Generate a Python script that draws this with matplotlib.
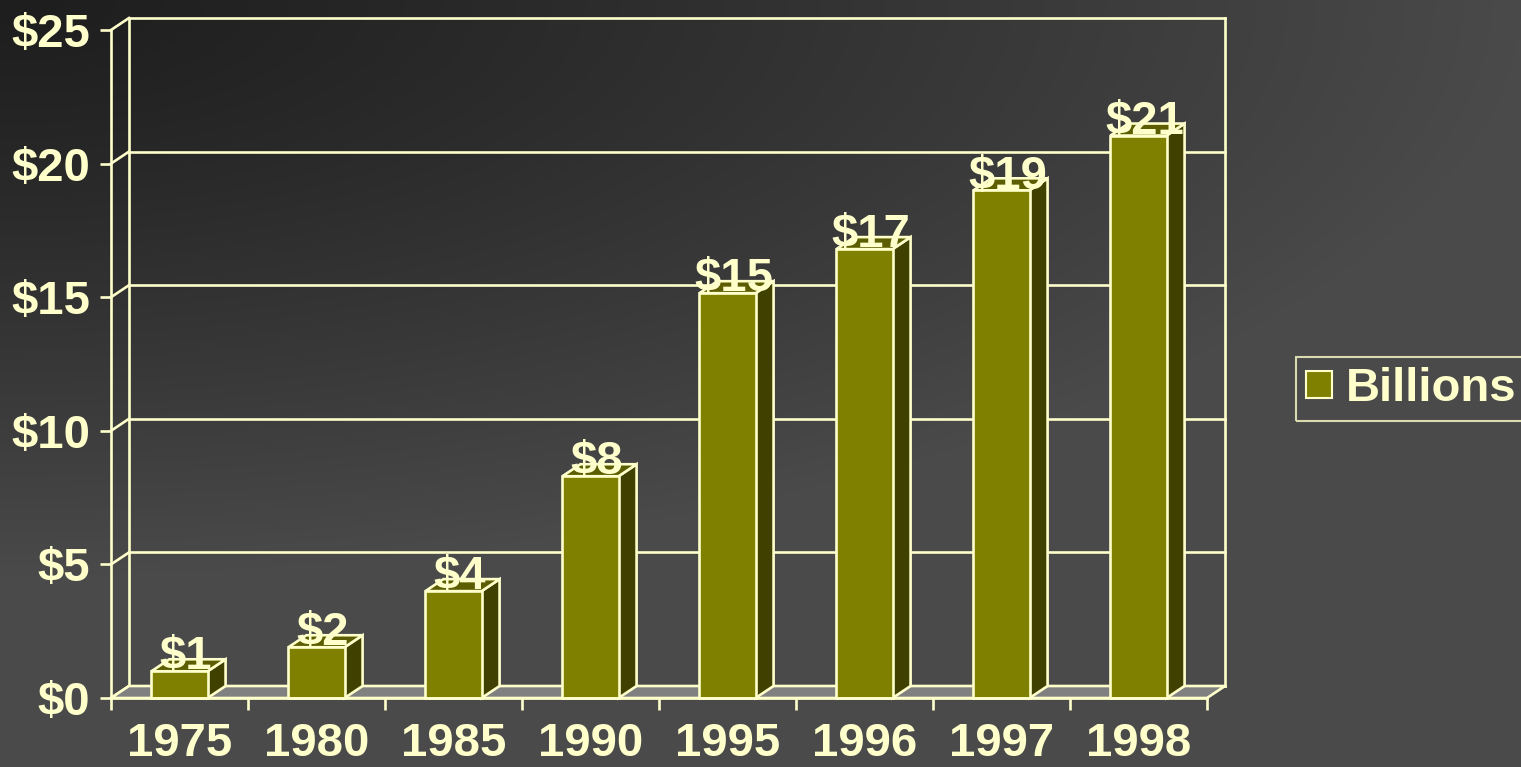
import numpy as np
import matplotlib
matplotlib.use('Agg')
import matplotlib.pyplot as plt
from matplotlib.patches import Polygon, Patch

# ---------------- data ----------------
years = ['1975', '1980', '1985', '1990', '1995', '1996', '1997', '1998']
values = [1.0, 1.9, 4.0, 8.3, 15.15, 16.8, 19.0, 21.05]
value_labels = ['$1', '$2', '$4', '$8', '$15', '$17', '$19', '$21']
yticks = [0, 5, 10, 15, 20, 25]
ytick_labels = ['$0', '$5', '$10', '$15', '$20', '$25']
series_name = 'Billions'

# ---------------- style ----------------
W, H, DPI = 1521, 767, 100
EC = '#FFFFCC'
FRONT = '#808000'
SIDE = '#404000'
TOP = '#5c5c00'
FLOOR = '#808080'
LW = 1.9
FS = 34
DEPTH_PX = (18, 12)

plt.rcParams['font.family'] = ['Liberation Sans', 'DejaVu Sans']
plt.rcParams['font.weight'] = 'bold'

fig = plt.figure(figsize=(W / DPI, H / DPI), dpi=DPI)

# background gradient
bg = fig.add_axes([0, 0, 1, 1], zorder=-10)
yy, xx = np.mgrid[0:H, 0:W]
d = np.sqrt((xx / W) ** 2 + (yy / (0.75 * H)) ** 2)
d = np.clip(d, 0, 1) ** 1.2
v = (0x1e + 0x2c * d) / 255.0
bg.imshow(np.dstack([v, v, v]), aspect='auto', interpolation='bilinear')
bg.axis('off')

# main axes (front plane)
ax = fig.add_axes([111 / W, (H - 698) / H, (1207 - 111) / W, (698 - 30) / H])
ax.set_xlim(-0.5, len(years) - 0.5)
ax.set_ylim(0, 25)
ax.patch.set_visible(False)

# depth expressed in data units through the axes transform
inv = ax.transData.inverted()
o = ax.transData.transform((0, 0))
dd = inv.transform(o + np.array(DEPTH_PX))
ddx, ddy = dd[0], dd[1]

x0, x1 = -0.5, len(years) - 0.5
ymax = yticks[-1]

# back wall grid and side diagonals
for t in yticks:
    ax.plot([x0 + ddx, x1 + ddx], [t + ddy, t + ddy], color=EC, lw=LW, clip_on=False, zorder=1)
    ax.plot([x0, x0 + ddx], [t, t + ddy], color=EC, lw=LW, clip_on=False, zorder=1)
ax.plot([x0 + ddx, x0 + ddx], [ddy, ymax + ddy], color=EC, lw=LW, clip_on=False, zorder=1)
ax.plot([x1 + ddx, x1 + ddx], [ddy, ymax + ddy], color=EC, lw=LW, clip_on=False, zorder=1)

# floor
ax.add_patch(Polygon([(x0, 0), (x1, 0), (x1 + ddx, ddy), (x0 + ddx, ddy)], closed=True,
                     facecolor=FLOOR, edgecolor=EC, lw=LW, clip_on=False, zorder=2,
                     joinstyle='miter'))

# bars
bw = 0.41
xs = np.arange(len(years))
ax.bar(xs, values, width=bw, color=FRONT, edgecolor=EC, lw=LW, zorder=4, clip_on=False)
for xi, val in zip(xs, values):
    r = xi + bw / 2
    l = xi - bw / 2
    ax.add_patch(Polygon([(r, 0), (r + ddx, ddy), (r + ddx, val + ddy), (r, val)], closed=True,
                         facecolor=SIDE, edgecolor=EC, lw=LW, clip_on=False, zorder=3))
    ax.add_patch(Polygon([(l, val), (r, val), (r + ddx, val + ddy), (l + ddx, val + ddy)], closed=True,
                         facecolor=TOP, edgecolor=EC, lw=LW, clip_on=False, zorder=3))

for xi, val, lab in zip(xs, values, value_labels):
    ax.text(xi + ddx * 0.35, val + ddy * 1.15, lab, ha='center', va='center',
            color=EC, fontsize=FS, fontweight='bold', zorder=6, clip_on=False)

# spines and ticks
for s in ['top', 'right']:
    ax.spines[s].set_visible(False)
for s in ['left', 'bottom']:
    ax.spines[s].set_color(EC)
    ax.spines[s].set_linewidth(LW)
    ax.spines[s].set_zorder(5)

ax.set_yticks(yticks)
ax.set_yticklabels(ytick_labels)
ax.tick_params(axis='y', direction='out', length=8, width=LW, color=EC,
               labelcolor=EC, labelsize=FS, pad=7)

ax.set_xticks(np.arange(-0.5, len(years), 1.0))
ax.set_xticklabels([''] * (len(years) + 1))
ax.set_xticks(xs, minor=True)
ax.set_xticklabels(years, minor=True)
ax.tick_params(axis='x', which='major', direction='out', length=8.5, width=LW, color=EC)
ax.tick_params(axis='x', which='minor', length=0, labelcolor=EC, labelsize=FS, pad=17)
for t in ax.get_xticklabels(minor=True) + ax.get_yticklabels():
    t.set_fontweight('bold')

# legend
handle = Patch(facecolor=FRONT, edgecolor=EC, lw=1.5)
leg = fig.legend([handle], [series_name], loc='center left',
                 bbox_to_anchor=(1296 / W, 1 - 389 / H), frameon=True,
                 prop={'size': FS, 'weight': 'bold'}, handlelength=0.54,
                 handleheight=0.5, handletextpad=0.3, borderpad=0.22,
                 borderaxespad=0, fancybox=False, labelcolor=EC)
leg.get_frame().set_facecolor('none')
leg.get_frame().set_edgecolor(EC)
leg.get_frame().set_linewidth(1.5)

fig.savefig('out.png', dpi=DPI)
